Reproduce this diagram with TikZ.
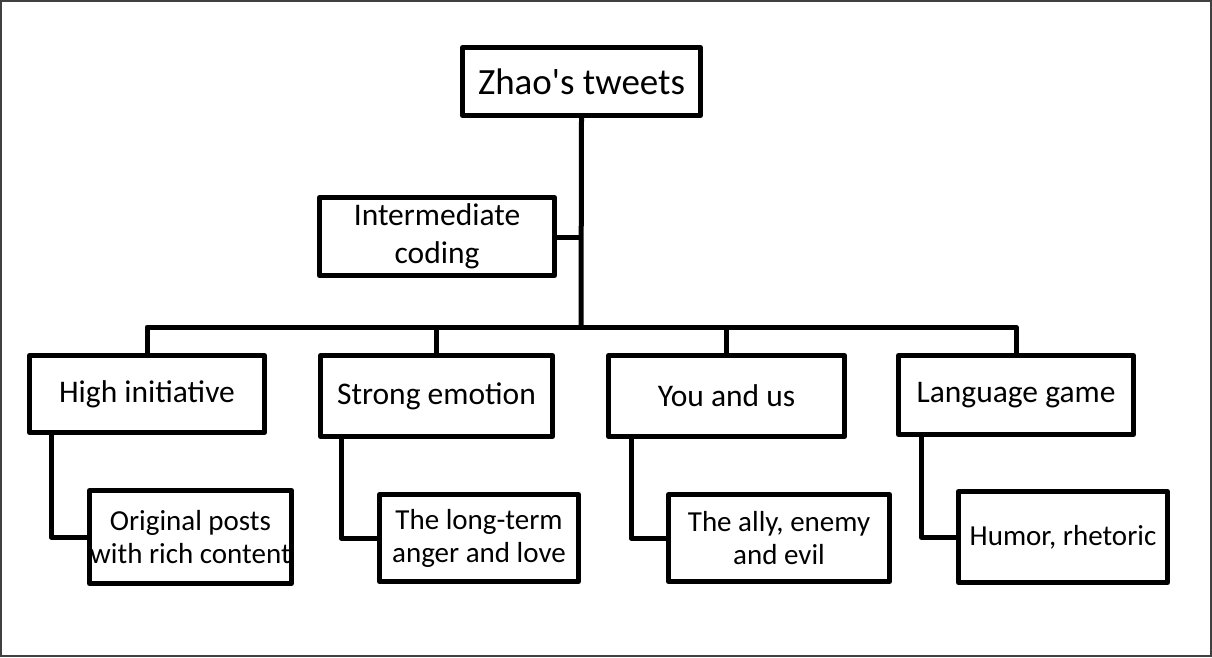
\documentclass[tikz,border=0pt]{standalone}
\usepackage{fontspec}
\setmainfont{Carlito}
\begin{document}
\begin{tikzpicture}[x=1pt,y=-1pt,
  box/.style={draw, line width=5pt, line join=round, inner sep=0pt, align=center, fill=white},
  conn/.style={line width=5pt, line join=round},
  big/.style={font=\fontsize{37}{44}\selectfont},
  mid/.style={font=\fontsize{31.5}{38}\selectfont},
  small/.style={font=\fontsize{29}{33}\selectfont}]
\useasboundingbox (0,0) rectangle (1212,657);
\draw[line width=1.5pt, black!75] (1,1) rectangle (1211,656);
\node[box, big, minimum width=238pt, minimum height=68pt] (root) at (581.5,81.5) {Zhao\textquotesingle s tweets};
\node[box, mid, minimum width=235pt, minimum height=78pt] (inter) at (437,236.5) {Intermediate\\coding};
\node[box, mid, minimum width=235pt, minimum height=77pt] (high) at (147,394) {High initiative};
\node[box, mid, minimum width=232pt, minimum height=81pt] (strong) at (436.5,396) {Strong emotion};
\node[box, mid, minimum width=236pt, minimum height=81pt] (you) at (726.5,396) {You and us};
\node[box, mid, minimum width=235pt, minimum height=79pt] (lang) at (1016,395) {Language game};
\node[box, small, minimum width=202pt, minimum height=93pt] (orig) at (190.5,537) {Original posts\\with rich content};
\node[box, small, minimum width=199pt, minimum height=87pt] (long) at (479,538) {The long-term\\anger and love};
\node[box, small, minimum width=221pt, minimum height=87pt] (ally) at (779,538) {The ally, enemy\\and evil};
\node[box, small, minimum width=209pt, minimum height=91pt] (humor) at (1063,537) {Humor, rhetoric};
\coordinate (bar) at (581,327);
\coordinate (mid) at (581,237);
\draw[conn] (root.south) -- (bar);
\draw[conn] (inter.east |- mid) -- (mid);
\draw[conn] (high.north) |- (bar);
\draw[conn] (strong.north) |- (bar);
\draw[conn] (you.north) |- (bar);
\draw[conn] (lang.north) |- (bar);
\draw[conn] ([xshift=-96pt]high.south) |- (orig.west);
\draw[conn] ([xshift=-95.5pt]strong.south) |- (long.west);
\draw[conn] ([xshift=-95.5pt]you.south) |- (ally.west);
\draw[conn] ([xshift=-95pt]lang.south) |- (humor.west);
\end{tikzpicture}
\end{document}
